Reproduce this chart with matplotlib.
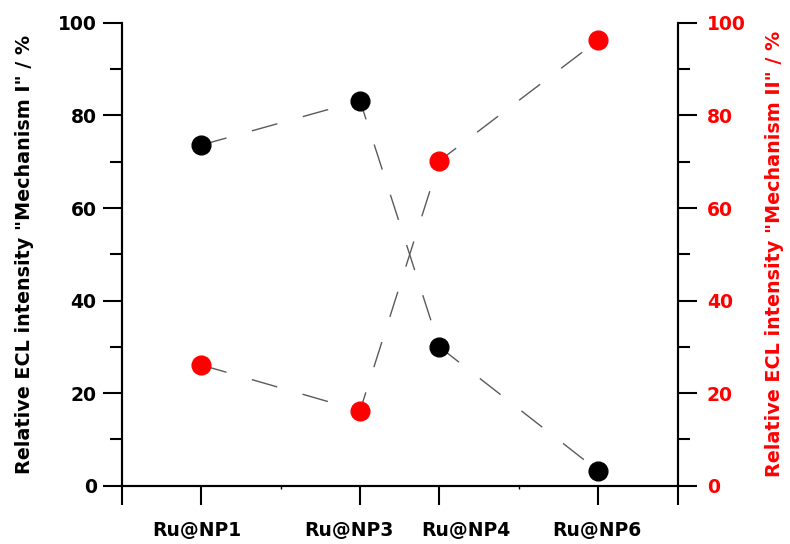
import matplotlib
matplotlib.use("Agg")
import matplotlib.pyplot as plt
import matplotlib.transforms as mtransforms
from matplotlib.ticker import FixedLocator, MultipleLocator

plt.rcParams['font.family'] = ['DejaVu Sans']
plt.rcParams['font.weight'] = 'bold'

samples = ["Ru@NP1", "Ru@NP3", "Ru@NP4", "Ru@NP6"]
x_pos = [1, 3, 4, 6]
mech1 = [73.6, 83.2, 30.0, 3.2]
mech2 = [26.1, 16.2, 70.2, 96.3]

fig = plt.figure(figsize=(7.9, 5.44), dpi=100)
ax = fig.add_axes([0.154, 0.107, 0.704, 0.851])
ax2 = ax.twinx()

dash = (0, (19, 19))
ax.plot(x_pos, mech1, color="#5a5a5a", lw=1.0, linestyle=dash, zorder=1)
ax.plot(x_pos, mech1, "o", color="black", ms=13.5, zorder=3)
ax2.plot(x_pos, mech2, color="#5a5a5a", lw=1.0, linestyle=dash, zorder=1)
ax2.plot(x_pos, mech2, "o", color="red", ms=13.5, zorder=3)

ax.set_xlim(0, 7)
ax.set_ylim(0, 100)
ax2.set_ylim(0, 100)

ax.xaxis.set_major_locator(FixedLocator([0] + x_pos + [7]))
ax.xaxis.set_minor_locator(FixedLocator([2, 5]))
ax.set_xticklabels([""] + samples + [""])

for a in (ax, ax2):
    a.yaxis.set_major_locator(MultipleLocator(20))
    a.yaxis.set_minor_locator(MultipleLocator(10))
    a.spines['top'].set_visible(False)
    for s in a.spines.values():
        s.set_linewidth(1.5)

ax.tick_params(axis='y', which='major', direction='out', length=14, width=1.5,
               labelsize=13.5, pad=4)
ax.tick_params(axis='y', which='minor', direction='out', length=8.5, width=1.5)
ax.tick_params(axis='x', which='major', direction='out', length=14, width=1.5,
               labelsize=13.5, pad=11)
ax.tick_params(axis='x', which='minor', direction='out', length=2, width=1.0)
ax2.tick_params(axis='y', which='major', direction='out', length=14, width=1.5,
                labelsize=13.5, labelcolor='red', pad=7)
ax2.tick_params(axis='y', which='minor', direction='out', length=8.5, width=1.5)

# labels in the original sit slightly off their ticks
shifts = [0, -4, -11, 26, -1, 0]
for lbl, dx in zip(ax.get_xticklabels(), shifts):
    off = mtransforms.ScaledTranslation(dx / 100, 0, fig.dpi_scale_trans)
    lbl.set_transform(lbl.get_transform() + off)

ax.set_ylabel('Relative ECL intensity "Mechanism I" / %', fontsize=13.8,
              fontweight='bold', labelpad=17)
ax2.set_ylabel('Relative ECL intensity "Mechanism II" / %', fontsize=13.8,
               fontweight='bold', color='red', labelpad=14)

fig.savefig("out.png", dpi=100)
